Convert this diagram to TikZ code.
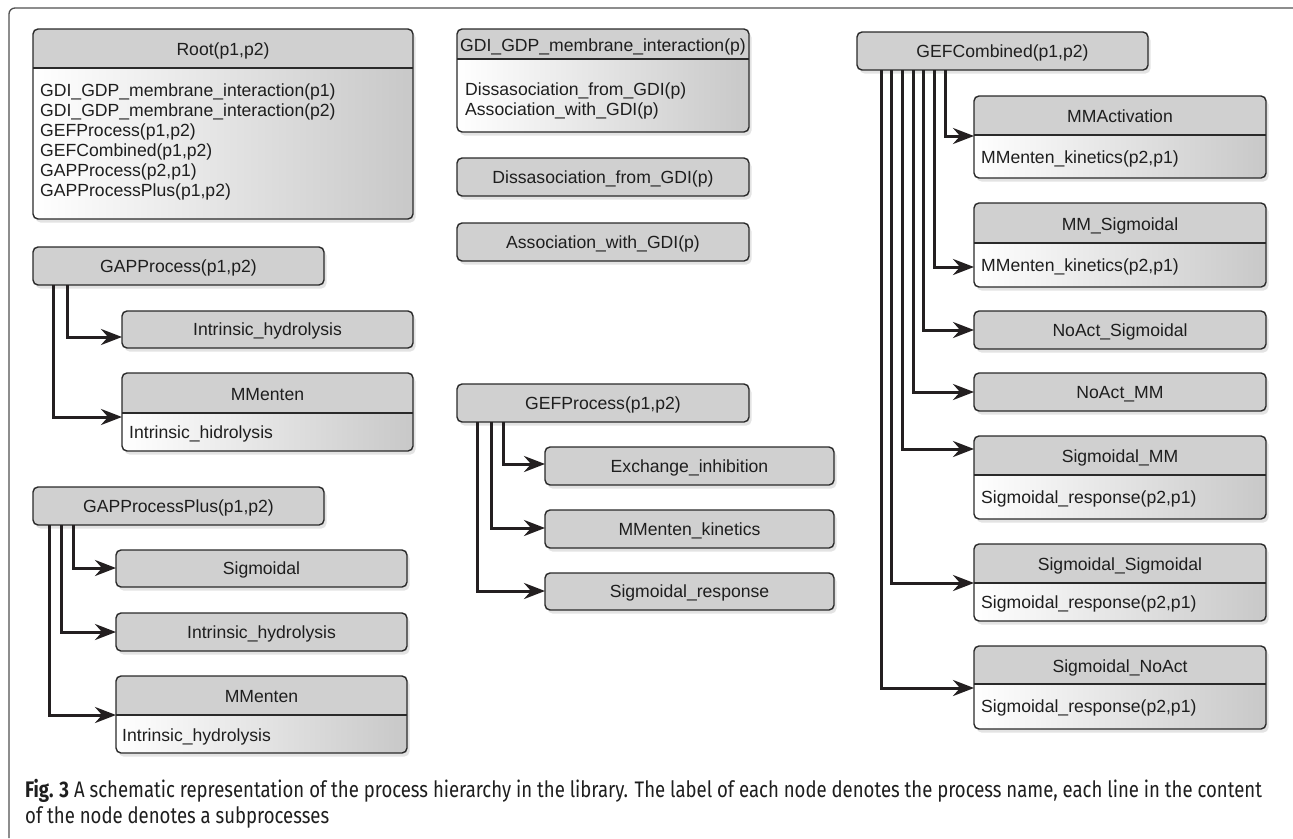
\documentclass[tikz,border=0pt]{standalone}
\usepackage{fontspec}
\usetikzlibrary{arrows.meta,shadows,calc}
\newfontfamily\boxfam{Liberation Sans}
\newfontfamily\capfam[FakeStretch=0.825]{Fira Sans}
\newcommand\bxfont{\boxfam\fontsize{17.6pt}{20pt}\selectfont}
\newcommand\cpfont{\capfam\fontsize{22.5pt}{25pt}\selectfont}
\definecolor{headfill}{HTML}{D0D0D0}
\definecolor{bodygray}{HTML}{C8C8C8}
\definecolor{bordercol}{HTML}{2A2A2A}
\definecolor{textcol}{HTML}{1E1E1E}
\definecolor{linecol}{HTML}{231F20}
\definecolor{framecol}{HTML}{505050}
\tikzset{
  txt/.style={font=\bxfont, text=textcol, text height=12.6pt, text depth=0pt, inner sep=0pt},
  shadowed/.style={drop shadow={opacity=0.22, shadow xshift=2.5pt, shadow yshift=-3.5pt}},
  sbox/.style={txt, rectangle, rounded corners=5pt, draw=bordercol, line width=1.4pt,
    fill=headfill, outer sep=0pt, shadowed},
  cbody/.style={rectangle, rounded corners=5pt, left color=white, right color=bodygray,
    outer sep=0pt, inner sep=0pt, shadowed},
  border/.style={draw=bordercol, line width=1.4pt, rounded corners=5pt},
  divline/.style={draw=bordercol, line width=1.4pt},
  conn/.style={draw=linecol, line width=3pt, line join=miter,
    -{Stealth[length=21pt,width=16pt,inset=7pt]}},
  framestyle/.style={draw=framecol, line width=1.3pt, rounded corners=6pt},
}
% simple box: name, x1, y1, x2, y2, text
\newcommand\mysbox[6]{%
  \node[sbox, anchor=north west, minimum width={(#4-#2)*1pt}, minimum height={(#5-#3)*1pt}] (#1) at (#2,#3) {#6};
}
% compound box: name, x1, y1, x2, ydiv, y2, title
\newcommand\mycbox[7]{%
  \node[cbody, anchor=north west, minimum width={(#4-#2)*1pt}, minimum height={(#6-#3)*1pt}] (#1) at (#2,#3) {};
  \begin{scope}
    \clip[rounded corners=5pt] (#2,#3) rectangle (#4,#6);
    \fill[headfill] (#2,#3) rectangle (#4,#5);
  \end{scope}
  \draw[divline] (#2,#5) -- (#4,#5);
  \draw[border] (#1.north west) rectangle (#1.south east);
  \node[txt] (#1-t) at ({(#2+#4)/2},{(#3+#5)/2+1}) {#7};
}
\begin{document}
\begin{tikzpicture}[x=1pt,y=-1pt]
\useasboundingbox (0,0) rectangle (1293,838);
\fill[white] (0,0) rectangle (1293,838);
% outer frame
\draw[framestyle] (9,838) |- (1293,8);

% ---------- left column ----------
\mycbox{root}{33}{29}{413}{68}{219}{Root(p1,p2)}
\node[txt, anchor=west] (r1) at (40,90.5) {GDI\_GDP\_membrane\_interaction(p1)};
\node[txt, anchor=west] (r2) at (40,110.5) {GDI\_GDP\_membrane\_interaction(p2)};
\node[txt, anchor=west] (r3) at (40,130.5) {GEFProcess(p1,p2)};
\node[txt, anchor=west] (r4) at (40,150.5) {GEFCombined(p1,p2)};
\node[txt, anchor=west] (r5) at (40,170.5) {GAPProcess(p2,p1)};
\node[txt, anchor=west] (r6) at (40,190.5) {GAPProcessPlus(p1,p2)};

\mysbox{gap}{33}{247}{324}{285}{GAPProcess(p1,p2)}
\mysbox{intr1}{122}{311}{413}{348}{Intrinsic\_hydrolysis}
\mycbox{mm1}{122}{373}{413}{413}{451}{MMenten}
\node[txt, anchor=west] (mm1b) at (129,432) {Intrinsic\_hidrolysis};

\mysbox{gapp}{33}{487}{324}{525}{GAPProcessPlus(p1,p2)}
\mysbox{sig1}{116}{550}{407}{587}{Sigmoidal}
\mysbox{intr2}{116}{613}{407}{651}{Intrinsic\_hydrolysis}
\mycbox{mm2}{116}{676}{407}{715}{753}{MMenten}
\node[txt, anchor=west] (mm2b) at (122,735) {Intrinsic\_hydrolysis};

% ---------- middle column ----------
\mycbox{gdi}{457}{29}{749}{59}{132}{GDI\_GDP\_membrane\_interaction(p)}
\node[txt, anchor=west] (g1) at (465,89) {Dissasociation\_from\_GDI(p)};
\node[txt, anchor=west] (g2) at (465,109) {Association\_with\_GDI(p)};
\mysbox{diss}{457}{158}{749}{196}{Dissasociation\_from\_GDI(p)}
\mysbox{assoc}{457}{223}{749}{261}{Association\_with\_GDI(p)}

\mysbox{gefp}{457}{384}{749}{422}{GEFProcess(p1,p2)}
\mysbox{exch}{545}{447}{834}{485}{Exchange\_inhibition}
\mysbox{mmk}{545}{510}{834}{548}{MMenten\_kinetics}
\mysbox{sigr}{545}{573}{834}{610}{Sigmoidal\_response}

% ---------- right column ----------
\mysbox{gefc}{857}{32}{1148}{70}{GEFCombined(p1,p2)}
\mycbox{mmact}{974}{96}{1266}{135}{178}{MMActivation}
\node[txt, anchor=west] (mmactb) at (981,157) {MMenten\_kinetics(p2,p1)};
\mycbox{mmsig}{974}{203}{1266}{243}{287}{MM\_Sigmoidal}
\node[txt, anchor=west] (mmsigb) at (981,265) {MMenten\_kinetics(p2,p1)};
\mysbox{noactsig}{974}{311}{1266}{349}{NoAct\_Sigmoidal}
\mysbox{noactmm}{974}{373}{1266}{411}{NoAct\_MM}
\mycbox{sigmm}{974}{436}{1266}{475}{519}{Sigmoidal\_MM}
\node[txt, anchor=west] (sigmmb) at (981,497) {Sigmoidal\_response(p2,p1)};
\mycbox{sigsig}{974}{544}{1266}{583}{621}{Sigmoidal\_Sigmoidal}
\node[txt, anchor=west] (sigsigb) at (981,602) {Sigmoidal\_response(p2,p1)};
\mycbox{signoact}{974}{646}{1266}{684}{729}{Sigmoidal\_NoAct}
\node[txt, anchor=west] (signoactb) at (981,706) {Sigmoidal\_response(p2,p1)};

% ---------- connectors ----------
\draw[conn] ([xshift=34pt]gap.south west) |- ([yshift=-26pt]intr1.north west);
\draw[conn] ([xshift=20pt]gap.south west) |- ([yshift=-44pt]mm1.north west);
\draw[conn] ([xshift=40pt]gapp.south west) |- ([yshift=-18pt]sig1.north west);
\draw[conn] ([xshift=28pt]gapp.south west) |- ([yshift=-19pt]intr2.north west);
\draw[conn] ([xshift=16pt]gapp.south west) |- ([yshift=-39pt]mm2.north west);
\draw[conn] ([xshift=46pt]gefp.south west) |- ([yshift=-17pt]exch.north west);
\draw[conn] ([xshift=34pt]gefp.south west) |- ([yshift=-18pt]mmk.north west);
\draw[conn] ([xshift=20pt]gefp.south west) |- ([yshift=-18pt]sigr.north west);
\draw[conn] ([xshift=88pt]gefc.south west) |- ([yshift=-40pt]mmact.north west);
\draw[conn] ([xshift=77pt]gefc.south west) |- ([yshift=-64pt]mmsig.north west);
\draw[conn] ([xshift=66pt]gefc.south west) |- ([yshift=-19pt]noactsig.north west);
\draw[conn] ([xshift=56pt]gefc.south west) |- ([yshift=-19pt]noactmm.north west);
\draw[conn] ([xshift=45pt]gefc.south west) |- ([yshift=-13pt]sigmm.north west);
\draw[conn] ([xshift=34pt]gefc.south west) |- ([yshift=-39pt]sigsig.north west);
\draw[conn] ([xshift=24pt]gefc.south west) |- ([yshift=-42pt]signoact.north west);

% ---------- caption ----------
\node[anchor=base west, inner sep=0pt, font=\cpfont, text=textcol] (cap1) at (25,797)
  {\textbf{Fig. 3} A schematic representation of the process hierarchy in the library. The label of each node denotes the process name, each line in the content};
\node[anchor=base west, inner sep=0pt, font=\cpfont, text=textcol] (cap2) at (25,823)
  {of the node denotes a subprocesses};
\end{tikzpicture}
\end{document}
